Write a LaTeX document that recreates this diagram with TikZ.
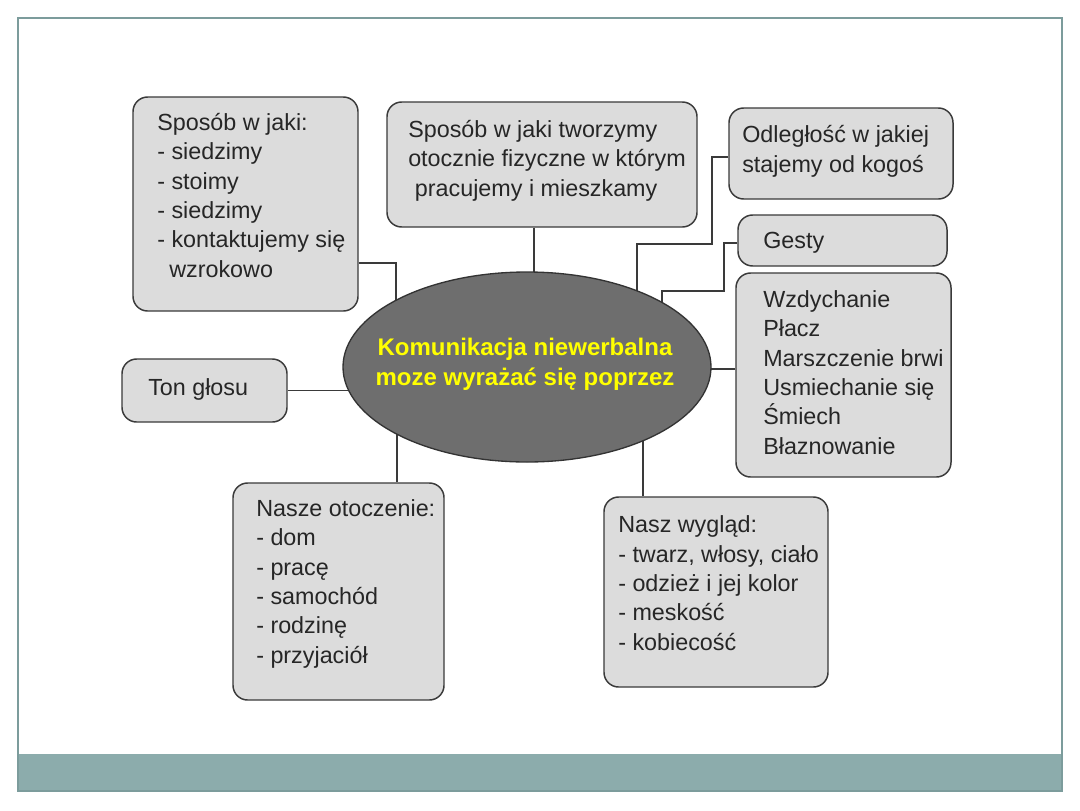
\documentclass[tikz,border=0pt]{standalone}
\usepackage{fontspec}
\setmainfont{Liberation Sans}
\usetikzlibrary{shapes.geometric,fit,backgrounds}
\definecolor{boxfill}{HTML}{DCDCDC}
\definecolor{boxline}{HTML}{3A3A3A}
\definecolor{ellfill}{HTML}{6E6E6E}
\definecolor{frameline}{HTML}{7C9C9C}
\definecolor{bandfill}{HTML}{8CACAC}
\definecolor{txtyellow}{HTML}{FFFF00}
\begin{document}
\begin{tikzpicture}[x=0.75pt,y=-0.75pt,
  box/.style={draw=boxline, fill=boxfill, line width=1.1pt, rounded corners=11pt, inner sep=0pt},
  txt/.style={font=\fontsize{17.5pt}{22pt}\selectfont, text=black!85, align=left, inner sep=0pt, anchor=base west},
  etxt/.style={font=\fontsize{18pt}{22.5pt}\selectfont\bfseries, text=txtyellow, align=center, inner sep=0pt, anchor=base},
  link/.style={draw=boxline, line width=0.9pt},
  ell/.style={ellipse, draw=black!80, fill=ellfill, line width=1pt, inner sep=0pt}]
\useasboundingbox (0,0) rectangle (1080,810);
% frame and band
\fill[bandfill] (18,754) rectangle (1062,791);
\draw[frameline, line width=1.2pt] (18,18) rectangle (1062,791);
% boxes
\node[box, fit={(133,97) (358,311)}] (b1) {};
\node[box, fit={(387,102) (697,227)}] (b2) {};
\node[box, fit={(729,108) (953,199)}] (b3) {};
\node[box, fit={(738,215) (947,266)}] (b4) {};
\node[box, fit={(736,273) (951,477)}] (b5) {};
\node[box, fit={(122,359) (287,422)}] (b6) {};
\node[box, fit={(233,483) (444,700)}] (b7) {};
\node[box, fit={(604,497) (828,687)}] (b8) {};
% central ellipse
\node[ell, minimum width=276pt, minimum height=142.5pt] (e) at (527,367) {};
% texts (anchored at the baseline of their last line)
\node[txt] (t1) at (157,277) {Sposób w jaki:\\- siedzimy\\- stoimy\\- siedzimy\\- kontaktujemy się\\\hspace*{9pt}wzrokowo};
\node[txt] (t2) at (408,196) {Sposób w jaki tworzymy\\otocznie fizyczne w którym\\\hspace*{5pt}pracujemy i mieszkamy};
\node[txt] (t3) at (742,172) {Odległość w jakiej\\stajemy od kogoś};
\node[txt] (t4) at (763,248) {Gesty};
\node[txt] (t5) at (763,454) {Wzdychanie\\Płacz\\Marszczenie brwi\\Usmiechanie się\\Śmiech\\Błaznowanie};
\node[txt] (t6) at (148,395) {Ton głosu};
\node[txt] (t7) at (256,663) {Nasze otoczenie:\\- dom\\- pracę\\- samochód\\- rodzinę\\- przyjaciół};
\node[txt] (t8) at (618,650) {Nasz wygląd:\\- twarz, włosy, ciało\\- odzież i jej kolor\\- meskość\\- kobiecość};
\node[etxt] (et) at (525,385) {Komunikacja niewerbalna\\moze wyrażać się poprzez};
% connectors (behind)
\begin{scope}[on background layer]
\fill[white] (0,0) rectangle (1080,810);
\draw[link] (b1.east |- 0,263) -- (396,263) -- (396,0 |- e.center);
\draw[link] (b2.south -| 534,0) -- (534,0 |- e.center);
\draw[link] (b3.west |- 0,157) -- (712,157) -- (712,244) -- (637,244) -- (637,0 |- e.center);
\draw[link] (b4.west |- 0,243) -- (724,243) -- (724,291) -- (662,291) -- (662,0 |- e.center);
\draw[link] (b5.west |- 0,369) -- (e.center |- 0,369);
\draw[link] (b6.east) -- (e.center |- b6.east);
\draw[link] (b7.north -| 397,0) -- (397,0 |- e.center);
\draw[link] (b8.north -| 643,0) -- (643,0 |- e.center);
\end{scope}
\end{tikzpicture}
\end{document}
